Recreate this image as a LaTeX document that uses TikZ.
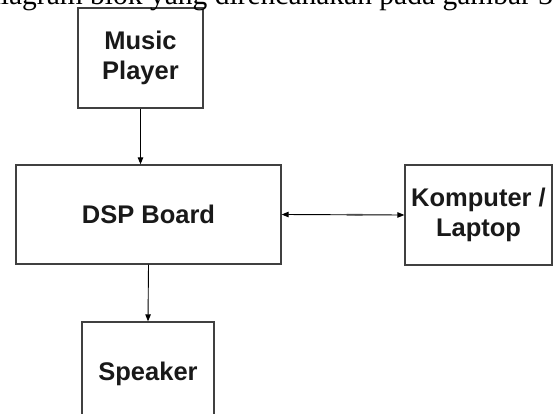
\documentclass[tikz,border=0pt]{standalone}
\usepackage{fontspec}
\setmainfont{Liberation Serif}
\newfontfamily\boxfont{Liberation Sans}
\usetikzlibrary{arrows.meta,calc}
\begin{document}
\begin{tikzpicture}[x=1pt,y=-1pt,
  blockbox/.style={draw=black!75, line width=1.3pt, inner sep=0pt,
    align=center, text=black!90, font=\boxfont\bfseries\fontsize{25.5}{30}\selectfont},
  conn/.style={line width=0.9pt, black},
  tip/.style={-{Triangle[length=7pt,width=5.5pt]}}]
\useasboundingbox (0,0) rectangle (553,414);
\clip (0,0) rectangle (553,414);
\fill[white] (0,0) rectangle (553,414);
% blocks
\node[blockbox, minimum width=125pt, minimum height=100pt] (music) at (140.5,58) {Music\\Player};
\node[blockbox, minimum width=265pt, minimum height=99pt] (dsp) at (148.5,214.5) {DSP Board};
\node[blockbox, minimum width=147pt, minimum height=100pt] (komp) at (478.5,215) {Komputer /\\Laptop};
\node[blockbox, minimum width=132pt, minimum height=110pt] (spk) at (148,377) {};
\node[anchor=base, inner sep=0pt, text=black!90, font=\boxfont\bfseries\fontsize{25.5}{30}\selectfont]
  (spklabel) at (148,380) {Speaker};
% connectors
\draw[conn, tip] (music.south) -- (music.south |- dsp.north);
\draw[conn, tip] (dsp.south) -- (spk.north);
\draw[conn, {Triangle[length=7pt,width=5.5pt]}-{Triangle[length=7pt,width=5.5pt]}] (dsp.east) -- (komp.west);
\draw[line width=1.8pt, black!70] ($(dsp.east)!0.53!(komp.west)$) -- ($(dsp.east)!0.66!(komp.west)$);
% cut-off caption line at the top
\node[anchor=base west, inner sep=0pt, font=\fontsize{29.5}{30}\selectfont]
  (caption) at (-14,5) {diagram blok yang direncanakan pada gambar 3};
\end{tikzpicture}
\end{document}
